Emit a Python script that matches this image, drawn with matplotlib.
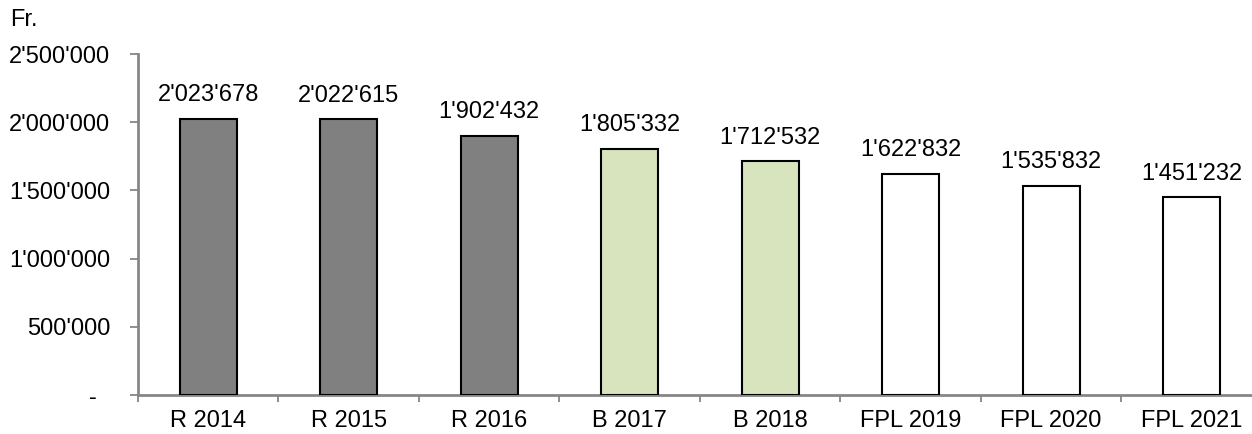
import matplotlib
matplotlib.use("Agg")
import matplotlib.pyplot as plt
from matplotlib.ticker import FuncFormatter, FixedLocator

plt.rcParams['font.family'] = ['Liberation Sans', 'DejaVu Sans']

categories = ["R 2014", "R 2015", "R 2016", "B 2017", "B 2018", "FPL 2019", "FPL 2020", "FPL 2021"]
values = [2023678, 2022615, 1902432, 1805332, 1712532, 1622832, 1535832, 1451232]
bar_colors = ["#808080", "#808080", "#808080", "#d7e4bd", "#d7e4bd", "#ffffff", "#ffffff", "#ffffff"]
y_ticks = [0, 500000, 1000000, 1500000, 2000000, 2500000]

FS = 17


def swiss(v):
    return f"{int(round(v)):,}".replace(",", "'")


def ytick_fmt(v, pos):
    if v == 0:
        return "-  "
    return swiss(v)


fig = plt.figure(figsize=(12.52, 4.34), dpi=100)
ax = fig.add_axes([138 / 1252, 1 - 395 / 434, 1 - 138 / 1252, (395 - 54) / 434])

xs = list(range(len(categories)))
bars = ax.bar(xs, values, width=0.405, color=bar_colors, edgecolor="black", linewidth=1.5, zorder=3)

for x, v in zip(xs, values):
    ax.annotate(swiss(v), (x, v), xytext=(0, 9), textcoords="offset points",
                ha="center", va="bottom", fontsize=FS)

ax.set_xlim(-0.5, 7.43)
ax.set_ylim(0, 2500000)
ax.yaxis.set_major_locator(FixedLocator(y_ticks))
ax.yaxis.set_major_formatter(FuncFormatter(ytick_fmt))

ax.set_xticks(xs)
ax.set_xticklabels(categories)
ax.xaxis.set_minor_locator(FixedLocator([i - 0.5 for i in range(len(categories) + 1)]))

grey = "#868686"
for side in ("top", "right"):
    ax.spines[side].set_visible(False)
for side in ("left", "bottom"):
    ax.spines[side].set_color(grey)
    ax.spines[side].set_linewidth(2)

ax.tick_params(axis="y", direction="out", length=6, width=1.3, color=grey, pad=14, labelsize=FS)
ax.tick_params(axis="x", which="major", length=0, pad=11, labelsize=FS)
ax.tick_params(axis="x", which="minor", direction="out", length=5, width=1.3, color=grey)

fig.text(10 / 1252, 1 - 20 / 434, "Fr.", ha="left", va="center", fontsize=FS)

fig.savefig("out.png", dpi=100)
